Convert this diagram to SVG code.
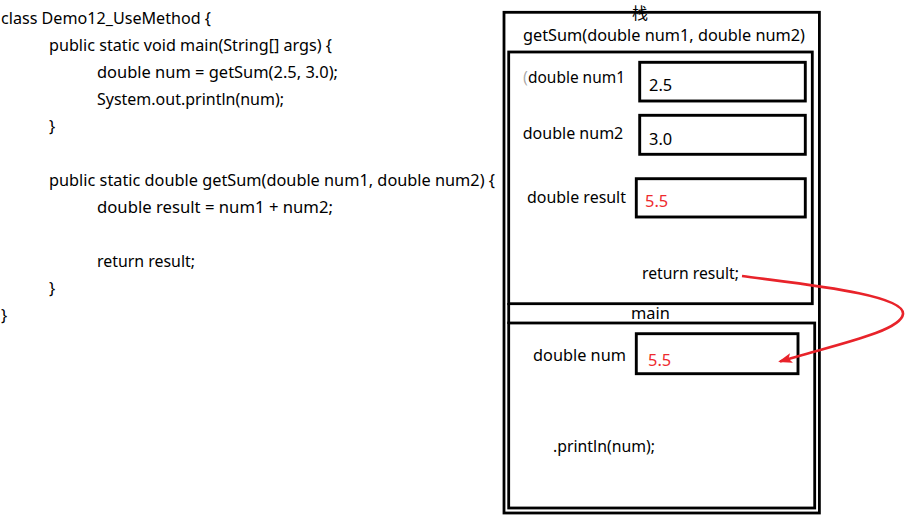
<svg xmlns="http://www.w3.org/2000/svg" width="911" height="520" viewBox="0 0 911 520">
<defs>
<style>
text{font-family:"Noto Sans","Open Sans","DejaVu Sans",sans-serif;font-size:16.4px;fill:#000}
.cjk{font-family:"Noto Sans CJK SC","Noto Sans",sans-serif;font-size:16px}
.red{fill:#ee2a2e}
.frame{fill:none;stroke:#000;stroke-width:2.8}
.cell{fill:#fff;stroke:#000;stroke-width:2.9}
.conn{fill:none;stroke:#e8232a;stroke-width:2.6}
</style>
<marker id="ah" markerWidth="15" markerHeight="11" refX="12" refY="5.5" orient="auto" markerUnits="userSpaceOnUse">
<path d="M0,0.5 L14,5.5 L0,10.5 L3,5.5 Z" fill="#e8232a"/>
</marker>
</defs>
<rect width="911" height="520" fill="#fff"/>

<g id="code">
<text x="1" y="24" textLength="210" lengthAdjust="spacingAndGlyphs">class Demo12_UseMethod {</text>
<text x="49" y="51" textLength="283" lengthAdjust="spacingAndGlyphs">public static void main(String[] args) {</text>
<text x="97" y="78" textLength="241" lengthAdjust="spacingAndGlyphs">double num = getSum(2.5, 3.0);</text>
<text x="97" y="105" textLength="187" lengthAdjust="spacingAndGlyphs">System.out.println(num);</text>
<text x="49" y="132">}</text>
<text x="49" y="186" textLength="446" lengthAdjust="spacingAndGlyphs">public static double getSum(double num1, double num2) {</text>
<text x="97" y="213" textLength="236" lengthAdjust="spacingAndGlyphs">double result = num1 + num2;</text>
<text x="97" y="267" textLength="98" lengthAdjust="spacingAndGlyphs">return result;</text>
<text x="49" y="294">}</text>
<text x="1" y="321">}</text>
</g>

<g id="stack">
<rect class="frame" x="504" y="12.3" width="315.4" height="500.7"/>
<text class="cjk" x="632" y="18.5">栈</text>
</g>

<g id="getSum-frame">
<rect class="frame" x="508.7" y="52" width="303.6" height="251.7"/>
<text x="523" y="41" textLength="282" lengthAdjust="spacingAndGlyphs">getSum(double num1, double num2)</text>
</g>

<g id="num1">
<text x="523" y="83"><tspan fill-opacity="0.35">(</tspan><tspan x="528" textLength="97" lengthAdjust="spacingAndGlyphs">double num1</tspan></text>
<rect class="cell" x="639.7" y="62.3" width="165.6" height="38.7"/>
<text x="649" y="91">2.5</text>
</g>

<g id="num2">
<text x="522.7" y="139" textLength="100.6" lengthAdjust="spacingAndGlyphs">double num2</text>
<rect class="cell" x="639.7" y="115.3" width="165.6" height="39"/>
<text x="649" y="144.5">3.0</text>
</g>

<g id="result">
<text x="527" y="202.7" textLength="99" lengthAdjust="spacingAndGlyphs">double result</text>
<rect class="cell" x="636.3" y="178.7" width="169" height="38.3"/>
<text class="red" x="645" y="207">5.5</text>
</g>

<g id="return">
<text x="642" y="279" textLength="97" lengthAdjust="spacingAndGlyphs">return result;</text>
</g>

<g id="main-frame">
<rect class="frame" x="508.7" y="323" width="306" height="185"/>
<line class="frame" x1="508.7" y1="303" x2="508.7" y2="324"/>
<text x="631" y="318.5">main</text>
</g>

<g id="num">
<text x="533" y="361" textLength="93" lengthAdjust="spacingAndGlyphs">double num</text>
<rect class="cell" x="636.3" y="333.7" width="161.7" height="40"/>
<text class="red" x="648" y="365.5">5.5</text>
</g>

<g id="println">
<text x="553" y="451.7" textLength="102" lengthAdjust="spacingAndGlyphs">.println(num);</text>
</g>

<g id="connectors">
<path class="conn" d="M742,276 C800,284 905,294 903,314 C901,332 830,346 780,361.5" marker-end="url(#ah)"/>
</g>
</svg>
